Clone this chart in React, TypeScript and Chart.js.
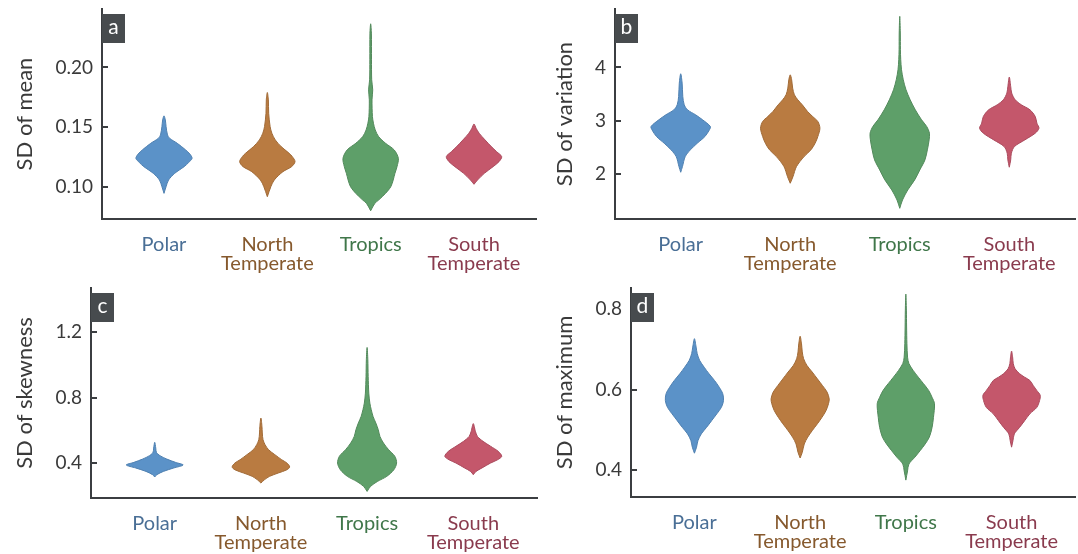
import React, { useEffect, useRef } from 'react';
import { Chart, registerables } from 'chart.js';

Chart.register(...registerables);

// ---------- categories & colours ----------
const categories = ['Polar', 'North Temperate', 'Tropics', 'South Temperate'];
const categoryLines = [['Polar'], ['North', 'Temperate'], ['Tropics'], ['South', 'Temperate']];
const categoryPositions = [0, 1, 2, 3];
const fillColors = ['#5b92c8', '#b97b41', '#5e9f69', '#c4576b'];
const edgeColors = ['#4f80b0', '#a06a37', '#52895b', '#aa4a5d'];
const labelColors = ['#4a6f96', '#86592d', '#40774a', '#8a3b4e'];
const axisColor = '#3b3e41';
const textColor = '#3a3a3a';

// ---------- panel a : SD of mean  ([value, half width]) ----------
const meanTicks = [0.1, 0.15, 0.2];
const meanPolar = [[0.0944, 0], [0.1, 0.02], [0.1056, 0.044], [0.1112, 0.104], [0.1168, 0.195], [0.1204, 0.24], [0.1238, 0.272], [0.1274, 0.25], [0.1308, 0.21], [0.1364, 0.128], [0.1406, 0.054], [0.1434, 0.034], [0.1504, 0.02], [0.156, 0.013], [0.1594, 0]];
const meanNorth = [[0.0916, 0], [0.1, 0.034], [0.1056, 0.067], [0.1126, 0.151], [0.1168, 0.235], [0.121, 0.268], [0.1252, 0.242], [0.128, 0.211], [0.1336, 0.134], [0.1392, 0.077], [0.1448, 0.044], [0.1504, 0.027], [0.1616, 0.013], [0.1728, 0.01], [0.179, 0]];
const meanTropics = [[0.0798, 0], [0.086, 0.04], [0.0888, 0.077], [0.0944, 0.144], [0.1, 0.195], [0.1056, 0.218], [0.1112, 0.235], [0.1168, 0.255], [0.1238, 0.268], [0.1308, 0.228], [0.1364, 0.144], [0.142, 0.077], [0.1476, 0.044], [0.1532, 0.027], [0.1588, 0.017], [0.1728, 0.013], [0.1812, 0.02], [0.1896, 0.01], [0.2064, 0.008], [0.2288, 0.007], [0.2366, 0]];
const meanSouth = [[0.102, 0], [0.1056, 0.034], [0.1112, 0.1], [0.1168, 0.185], [0.121, 0.242], [0.1252, 0.268], [0.1294, 0.218], [0.1336, 0.168], [0.1392, 0.107], [0.1448, 0.05], [0.149, 0.02], [0.1526, 0]];

// ---------- panel b : SD of variation ----------
const varTicks = [2, 3, 4];
const varPolar = [[2.025, 0], [2.132, 0.016], [2.32, 0.041], [2.447, 0.088], [2.572, 0.151], [2.698, 0.221], [2.824, 0.262], [2.887, 0.271], [3.013, 0.2], [3.107, 0.136], [3.2, 0.063], [3.296, 0.032], [3.453, 0.019], [3.704, 0.013], [3.88, 0]];
const varNorth = [[1.818, 0], [1.943, 0.025], [2.132, 0.057], [2.32, 0.126], [2.447, 0.189], [2.572, 0.227], [2.698, 0.252], [2.855, 0.271], [2.981, 0.252], [3.075, 0.205], [3.17, 0.158], [3.296, 0.11], [3.39, 0.069], [3.484, 0.038], [3.61, 0.022], [3.767, 0.013], [3.86, 0]];
const varTropics = [[1.346, 0], [1.503, 0.025], [1.692, 0.073], [1.881, 0.136], [2.069, 0.183], [2.258, 0.23], [2.447, 0.252], [2.635, 0.268], [2.761, 0.271], [2.887, 0.246], [3.013, 0.199], [3.201, 0.142], [3.39, 0.095], [3.579, 0.057], [3.767, 0.032], [3.956, 0.016], [4.145, 0.009], [4.333, 0.006], [4.648, 0.005], [4.962, 0]];
const varSouth = [[2.12, 0], [2.258, 0.013], [2.384, 0.019], [2.509, 0.047], [2.635, 0.142], [2.761, 0.237], [2.855, 0.271], [2.95, 0.252], [3.075, 0.237], [3.201, 0.189], [3.296, 0.11], [3.39, 0.054], [3.516, 0.022], [3.642, 0.013], [3.818, 0]];

// ---------- panel c : SD of skewness ----------
const skewTicks = [0.4, 0.8, 1.2];
const skewPolar = [[0.317, 0], [0.331, 0.02], [0.351, 0.082], [0.372, 0.18], [0.39, 0.268], [0.406, 0.196], [0.426, 0.114], [0.447, 0.049], [0.467, 0.016], [0.493, 0.01], [0.528, 0]];
const skewNorth = [[0.28, 0], [0.3, 0.033], [0.321, 0.082], [0.341, 0.163], [0.361, 0.245], [0.378, 0.271], [0.402, 0.245], [0.422, 0.196], [0.453, 0.131], [0.483, 0.072], [0.514, 0.039], [0.544, 0.02], [0.585, 0.013], [0.625, 0.01], [0.676, 0]];
const skewTropics = [[0.229, 0], [0.26, 0.033], [0.29, 0.098], [0.321, 0.186], [0.361, 0.252], [0.402, 0.278], [0.443, 0.261], [0.483, 0.203], [0.524, 0.154], [0.564, 0.121], [0.605, 0.105], [0.646, 0.082], [0.686, 0.056], [0.727, 0.039], [0.767, 0.026], [0.828, 0.016], [0.93, 0.01], [1.031, 0.007], [1.106, 0]];
const skewSouth = [[0.331, 0], [0.351, 0.026], [0.372, 0.082], [0.402, 0.163], [0.422, 0.229], [0.443, 0.268], [0.473, 0.235], [0.504, 0.163], [0.534, 0.092], [0.564, 0.039], [0.595, 0.02], [0.642, 0]];

// ---------- panel d : SD of maximum ----------
const maxTicks = [0.4, 0.6, 0.8];
const maxPolar = [[0.442, 0], [0.457, 0.02], [0.473, 0.033], [0.49, 0.065], [0.506, 0.114], [0.523, 0.163], [0.54, 0.212], [0.556, 0.255], [0.573, 0.275], [0.59, 0.268], [0.606, 0.235], [0.623, 0.19], [0.64, 0.137], [0.656, 0.092], [0.673, 0.049], [0.69, 0.026], [0.706, 0.016], [0.727, 0]];
const maxNorth = [[0.43, 0], [0.444, 0.02], [0.465, 0.039], [0.482, 0.072], [0.498, 0.114], [0.515, 0.163], [0.531, 0.206], [0.548, 0.245], [0.565, 0.268], [0.577, 0.275], [0.594, 0.255], [0.61, 0.212], [0.627, 0.163], [0.644, 0.114], [0.66, 0.065], [0.677, 0.033], [0.694, 0.02], [0.714, 0.013], [0.733, 0]];
const maxTropics = [[0.375, 0], [0.398, 0.016], [0.415, 0.029], [0.432, 0.085], [0.448, 0.134], [0.465, 0.183], [0.482, 0.222], [0.506, 0.248], [0.531, 0.261], [0.565, 0.271], [0.581, 0.248], [0.598, 0.216], [0.615, 0.167], [0.631, 0.118], [0.648, 0.069], [0.665, 0.029], [0.681, 0.016], [0.715, 0.01], [0.756, 0.007], [0.798, 0.005], [0.838, 0]];
const maxSouth = [[0.457, 0], [0.473, 0.013], [0.49, 0.026], [0.506, 0.075], [0.523, 0.124], [0.54, 0.173], [0.556, 0.239], [0.573, 0.265], [0.586, 0.271], [0.598, 0.239], [0.61, 0.206], [0.623, 0.173], [0.631, 0.124], [0.64, 0.075], [0.652, 0.033], [0.665, 0.016], [0.681, 0.01], [0.696, 0]];

// ---------- panel layout ----------
const panels = [
  { letter: 'a', title: 'SD of mean', ticks: meanTicks, dec: 2, yMin: 0.0729, yMax: 0.249, violins: [meanPolar, meanNorth, meanTropics, meanSouth],
    left: 0, top: 0, width: 540, height: 277, yWidth: 102, xHeight: 58, padTop: 9, padRight: 4 },
  { letter: 'b', title: 'SD of variation', ticks: varTicks, dec: 0, yMin: 1.145, yMax: 5.1, violins: [varPolar, varNorth, varTropics, varSouth],
    left: 540, top: 0, width: 538, height: 277, yWidth: 75, xHeight: 58, padTop: 9, padRight: 3 },
  { letter: 'c', title: 'SD of skewness', ticks: skewTicks, dec: 1, yMin: 0.189, yMax: 1.468, violins: [skewPolar, skewNorth, skewTropics, skewSouth],
    left: 0, top: 277, width: 540, height: 277, yWidth: 91, xHeight: 56, padTop: 11, padRight: 3 },
  { letter: 'd', title: 'SD of maximum', ticks: maxTicks, dec: 1, yMin: 0.333, yMax: 0.853, violins: [maxPolar, maxNorth, maxTropics, maxSouth],
    left: 540, top: 277, width: 538, height: 277, yWidth: 91, xHeight: 57, padTop: 11, padRight: 3 },
];

const FONT = 'Lato';

function violinPoints(pairs: number[][], pos: number) {
  const right = pairs.map(([v, w]) => ({ x: pos + w, y: v }));
  const left = pairs.slice(0, -1).reverse().map(([v, w]) => ({ x: pos - w, y: v }));
  return [...right, ...left];
}

const violinFill = {
  id: 'violinFill',
  beforeDatasetDraw(chart: any, args: any) {
    const meta = args.meta;
    const line = meta.dataset;
    if (!line || !line.points || !line.points.length) return;
    const ctx = chart.ctx;
    line.updateControlPoints(chart.chartArea, meta.iScale.axis);
    ctx.save();
    ctx.beginPath();
    line.path(ctx);
    ctx.closePath();
    ctx.fillStyle = chart.data.datasets[args.index].backgroundColor;
    ctx.fill();
    ctx.restore();
  },
};

const panelDecor = {
  id: 'panelDecor',
  afterDraw(chart: any, _args: any, opts: any) {
    const ctx = chart.ctx;
    const area = chart.chartArea;
    const y = chart.scales.y;
    ctx.save();
    ctx.strokeStyle = axisColor;
    ctx.lineWidth = 2;
    y.ticks.forEach((t: any) => {
      const py = Math.round(y.getPixelForValue(t.value));
      ctx.beginPath();
      ctx.moveTo(area.left, py);
      ctx.lineTo(area.left + 6, py);
      ctx.stroke();
    });
    const bx = area.left;
    const by = area.top + 5;
    ctx.fillStyle = '#474b4e';
    ctx.fillRect(bx, by, 23, 29);
    ctx.fillStyle = '#ffffff';
    ctx.font = `21px ${FONT}`;
    ctx.textAlign = 'center';
    ctx.textBaseline = 'middle';
    ctx.fillText(opts.text, bx + 11.5, by + 13.5);
    ctx.restore();
  },
};

function makeConfig(p: any): any {
  return {
    type: 'line',
    data: {
      datasets: p.violins.map((pairs: number[][], i: number) => ({
        label: categories[i],
        data: violinPoints(pairs, categoryPositions[i]),
        backgroundColor: fillColors[i],
        borderColor: edgeColors[i],
        borderWidth: 1,
        pointRadius: 0,
        tension: 0.3,
        fill: false,
      })),
    },
    options: {
      animation: false,
      responsive: false,
      events: [],
      layout: { autoPadding: false, padding: { top: p.padTop, right: p.padRight, left: 0, bottom: 0 } },
      plugins: {
        legend: { display: false },
        tooltip: { enabled: false },
        panelDecor: { text: p.letter },
      },
      scales: {
        x: {
          type: 'linear',
          min: -0.6,
          max: 3.6,
          grid: { display: false, drawTicks: false },
          border: { display: true, color: axisColor, width: 2 },
          afterBuildTicks: (s: any) => { s.ticks = categoryPositions.map((v) => ({ value: v })); },
          afterFit: (s: any) => {
            s.height = p.xHeight;
            s.paddingLeft = 0; s.paddingRight = 0; s.paddingTop = 0; s.paddingBottom = 0;
          },
          ticks: {
            autoSkip: false,
            maxRotation: 0,
            padding: 16,
            font: { family: FONT, size: 20, lineHeight: 0.95 },
            color: (c: any) => labelColors[c.index] || textColor,
            callback: (v: any) => categoryLines[categoryPositions.indexOf(Number(v))],
          },
        },
        y: {
          type: 'linear',
          min: p.yMin,
          max: p.yMax,
          grid: { display: false, drawTicks: false },
          border: { display: true, color: axisColor, width: 2 },
          afterBuildTicks: (s: any) => { s.ticks = p.ticks.map((v: number) => ({ value: v })); },
          afterFit: (s: any) => {
            s.width = p.yWidth;
            s.paddingLeft = 0; s.paddingRight = 0; s.paddingTop = 0; s.paddingBottom = 0;
          },
          title: {
            display: true,
            text: p.title,
            color: textColor,
            font: { family: FONT, size: 22 },
            padding: { top: 12, bottom: 0 },
          },
          ticks: {
            padding: 9,
            color: textColor,
            font: { family: FONT, size: 19 },
            callback: (v: any) => Number(v).toFixed(p.dec),
          },
        },
      },
    },
    plugins: [violinFill, panelDecor],
  };
}

function Panel({ p }: { p: any }) {
  const ref = useRef<HTMLCanvasElement | null>(null);
  useEffect(() => {
    if (!ref.current) return;
    const chart = new Chart(ref.current, makeConfig(p));
    return () => chart.destroy();
  }, [p]);
  return (
    <canvas
      ref={ref}
      width={p.width}
      height={p.height}
      style={{ position: 'absolute', left: p.left, top: p.top, width: p.width, height: p.height }}
    />
  );
}

export default function App() {
  return (
    <div style={{ position: 'absolute', left: 0, top: 0, width: 1078, height: 554, background: '#ffffff', fontFamily: FONT }}>
      {panels.map((p) => (
        <Panel key={p.letter} p={p} />
      ))}
    </div>
  );
}
